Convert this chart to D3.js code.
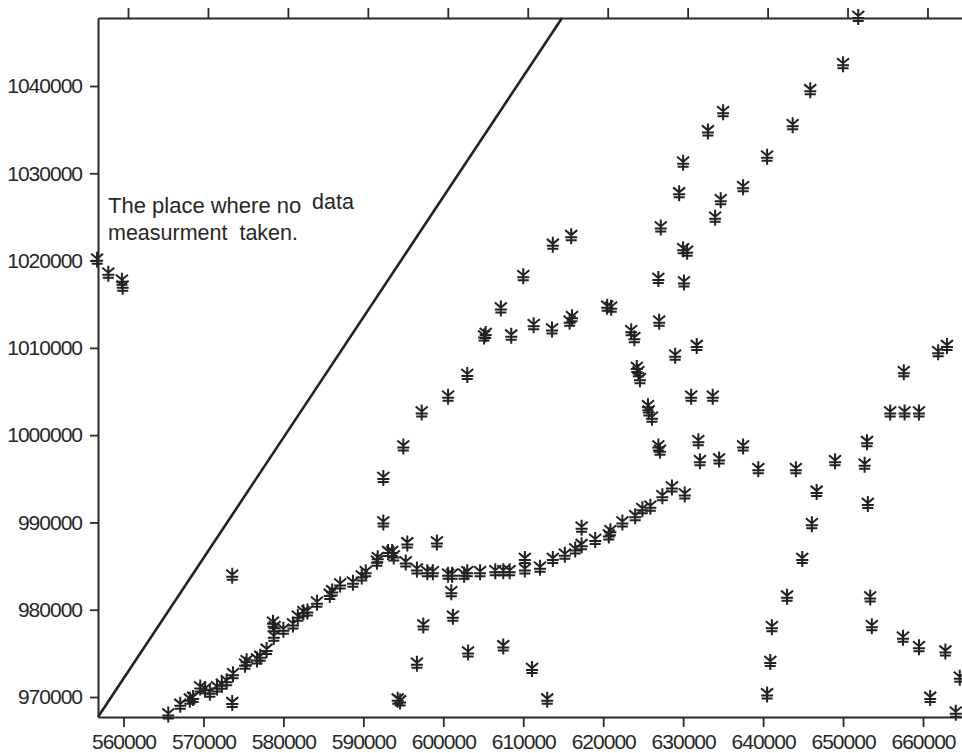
<!DOCTYPE html>
<html>
<head>
<meta charset="utf-8">
<script src="https://cdn.jsdelivr.net/npm/d3@7"></script>
<style>
  html, body { margin: 0; padding: 0; background: #ffffff; }
  svg { display: block; }
  text { font-family: Arial, "Liberation Sans", sans-serif; fill: #262626; }
</style>
</head>
<body>
<svg id="chart" width="962" height="753"></svg>
<script>
// ---- data (easting, northing) ----
const xTicks = [560000, 570000, 580000, 590000, 600000, 610000, 620000, 630000, 640000, 650000, 660000];
const yTicks = [970000, 980000, 990000, 1000000, 1010000, 1020000, 1030000, 1040000];

const pointsX = [
  556700, 558100, 559800, 559900,
  651900, 650000, 645900, 635000, 633100, 643700, 640500, 630000, 629500, 634700, 637500, 634000, 627200, 613700, 616000, 630000, 630500,
  610000, 626900, 630100, 607200, 620500, 621000, 605100, 605300, 608500, 611300, 613600, 615800, 616100, 627000, 623500, 623900,
  629000, 631700, 624200, 624400, 624600, 625600, 625700, 626100, 631000, 633700, 626900, 627100, 631900, 632100, 634500, 637500,
  639400, 644100, 649000, 652700, 653000, 646700, 653100, 655900, 657700, 659500, 657600, 661900, 663000,
  646100, 644900, 643000, 641100, 640900, 640500, 653400, 653600, 657500, 659500, 662800, 660900, 664100, 664600,
  630200, 628600, 627400, 625900, 624900, 624000, 622400, 620900, 620700, 619000, 617300, 617300, 616500, 615200, 613700,
  612100, 610200, 610200, 608300, 607500, 606500, 604600, 603000, 602600, 601100, 600600, 601000, 601200,
  598700, 598000, 596700, 595300, 593800, 593600, 593100, 591800, 591700, 590300, 589800, 588700, 587100, 586100, 585800,
  584200, 583000, 582500, 581800, 581200, 580000, 578700, 578900, 578800, 577900, 577100, 576700, 575400, 575200, 573700,
  572300, 571700, 570800, 570200, 569600, 568700, 568300, 567100, 565600, 572900,
  573600, 573600, 592500, 592500, 595500, 599200, 595000, 597300, 600600, 603000, 597500, 596700, 603100, 594300, 594600,
  607500, 611100, 613000
];
const pointsY = [
  1020100, 1018500, 1017700, 1017000,
  1047900, 1042500, 1039500, 1037000, 1034800, 1035500, 1031900, 1031200, 1027700, 1026900, 1028400, 1024900, 1023800, 1021800, 1022800, 1021300, 1021000,
  1018200, 1017900, 1017500, 1014500, 1014700, 1014600, 1011300, 1011600, 1011400, 1012600, 1012100, 1013000, 1013500, 1013000, 1011900, 1011100,
  1009100, 1010200, 1007700, 1007200, 1006400, 1003300, 1002700, 1002000, 1004400, 1004400, 998700, 998200, 999300, 997000, 997200, 998700,
  996100, 996100, 997000, 996600, 999200, 993500, 992100, 1002600, 1002600, 1002600, 1007200, 1009500, 1010200,
  989800, 985800, 981500, 978000, 974000, 970300, 981400, 978100, 976800, 975700, 975200, 969900, 968200, 972200,
  993200, 994000, 993000, 991800, 991500, 990700, 990000, 989000, 988500, 988000, 989400, 987400, 986900, 986300, 985800,
  984800, 985800, 984600, 984400, 984400, 984400, 984300, 984300, 984000, 984000, 984000, 982000, 979200,
  984300, 984300, 984600, 985400, 986100, 986600, 986600, 985900, 985500, 984300, 983800, 983100, 982900, 982100, 981700,
  980800, 979800, 979700, 979200, 978300, 977700, 978500, 978000, 976900, 975400, 974600, 974300, 974100, 973700, 972600,
  971400, 971100, 970500, 970900, 971100, 969900, 969700, 969100, 968000, 971800,
  983900, 969300, 990000, 995100, 987600, 987700, 998700, 1002600, 1004400, 1006900, 978200, 973800, 975100, 969700, 969500,
  975800, 973200, 969700
];

// boundary of the area with no measurements
const noDataLineX = [556810, 614850];
const noDataLineY = [967710, 1047790];

const noteLines = ["The place where no", "measurment  taken."];
const noteExtra = "data";

// ---- layout ----
const svg = d3.select("#chart");
const mLeft = 98, mRight = 962, mTop = 18, mBottom = 717;

const x = d3.scaleLinear().domain([556810, 664880]).range([mLeft, mRight]);
const y = d3.scaleLinear().domain([967710, 1047790]).range([mBottom, mTop]);

const axisColor = "#2a2a2a";

// no-data boundary line
svg.append("path")
  .datum(noDataLineX.map((d, i) => [d, noDataLineY[i]]))
  .attr("d", d3.line().x(d => x(d[0])).y(d => y(d[1])))
  .attr("fill", "none")
  .attr("stroke", "#222")
  .attr("stroke-width", 2.6);

// axes
function styleAxis(g) {
  g.select(".domain").attr("stroke", axisColor).attr("stroke-width", 2);
  g.selectAll(".tick line").attr("stroke", axisColor).attr("stroke-width", 1.8);
  g.selectAll(".tick text")
    .attr("fill", "#222")
    .style("font-size", "21px")
    .style("letter-spacing", "-1px")
    .style("font-family", "Arial, 'Liberation Sans', sans-serif");
}

const fmt = d3.format("d");

svg.append("g")
  .attr("transform", `translate(0,${mBottom})`)
  .call(d3.axisBottom(x).tickValues(xTicks).tickFormat(fmt).tickSize(10).tickPadding(7).tickSizeOuter(0))
  .call(styleAxis);

svg.append("g")
  .attr("transform", `translate(4.5,${mTop})`)
  .call(d3.axisTop(x).tickValues(xTicks).tickFormat("").tickSize(10).tickSizeOuter(0))
  .call(styleAxis)
  .select(".domain").attr("transform", "translate(-4.5,0)");

svg.append("g")
  .attr("transform", `translate(${mLeft},0)`)
  .call(d3.axisLeft(y).tickValues(yTicks).tickFormat(fmt).tickSize(8).tickPadding(8).tickSizeOuter(0))
  .call(styleAxis);

// annotation
const note = svg.append("g");
note.append("text").attr("x", 108).attr("y", 213).style("font-size", "22px").text(noteLines[0]);
note.append("text").attr("x", 312).attr("y", 209).style("font-size", "21.5px").text(noteExtra);
note.append("text").attr("x", 108).attr("y", 240).style("font-size", "21.5px").style("white-space", "pre").text(noteLines[1]);

// markers
const markerPath = "M0,-8V8M-6,-6L0,-1L6,-6M-6,1H6M-5.5,4H5.5";
svg.append("g")
  .selectAll("path")
  .data(pointsX.map((d, i) => [d, pointsY[i]]))
  .join("path")
  .attr("transform", d => `translate(${x(d[0])},${y(d[1])})`)
  .attr("d", markerPath)
  .attr("fill", "none")
  .attr("stroke", "#222")
  .attr("stroke-width", 2);
</script>
</body>
</html>
